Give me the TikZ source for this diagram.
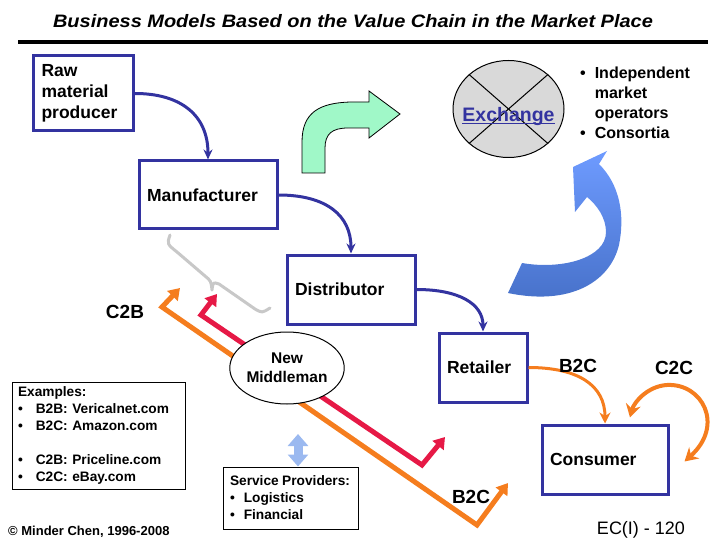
\documentclass[tikz,border=0pt]{standalone}
\usepackage{fontspec}
\setmainfont{Liberation Sans}
\usetikzlibrary{positioning, arrows.meta, shapes.geometric, calc}

\definecolor{boxblue}{RGB}{51,51,160}
\definecolor{flowred}{RGB}{230,25,70}
\definecolor{floworange}{RGB}{245,125,30}
\definecolor{greenfill}{RGB}{160,248,200}
\definecolor{liftlight}{RGB}{110,155,255}
\definecolor{liftdark}{RGB}{70,112,200}
\definecolor{svcblue}{RGB}{155,185,240}
\definecolor{xgray}{RGB}{217,217,217}
\definecolor{bracegray}{RGB}{200,200,200}

\newcommand{\boxfont}{\fontsize{17.5}{21}\selectfont\bfseries}
\newcommand{\notefont}{\fontsize{13.7}{17}\selectfont\bfseries}
\newcommand{\tagfont}{\fontsize{19}{22}\selectfont\bfseries}

\tikzset{
    chainbox/.style={draw=boxblue, line width=3pt, align=left, inner xsep=8pt,
        inner ysep=0pt, font=\boxfont},
    notebox/.style={draw, line width=1pt, align=left, inner xsep=6pt,
        inner ysep=0pt, font=\notefont},
    flow/.style={draw=boxblue, line width=3pt, -{Stealth[length=10pt,width=9pt]}},
    b2cflow/.style={draw=floworange, line width=3pt, -{Stealth[length=11pt,width=11pt]}},
    c2cflow/.style={draw=floworange, line width=4pt,
        {Stealth[length=13pt,width=15pt]}-{Stealth[length=13pt,width=15pt]}},
    bypass/.style={line width=5pt, line join=miter,
        {Triangle[length=11pt,width=14pt]}-{Triangle[length=11pt,width=14pt]}},
    tag/.style={font=\tagfont},
}

\begin{document}
\begin{tikzpicture}[x=1pt, y=-1pt]
    \useasboundingbox (0,0) rectangle (720,540);

    % title and rule
    \node[font=\fontsize{18}{20}\selectfont\bfseries\itshape] (title) at (353,21)
        {\scalebox{1.11}[1]{Business Models Based on the Value Chain in the Market Place}};
    \draw[line width=4pt] (18,42) -- (708,42);

    % the value chain
    \node[chainbox, text width=84, minimum height=75] (raw) at (83.5,93.5)
        {Raw\\material\\producer};
    \node[chainbox, text width=122, minimum height=68] (manu) at (208,195)
        {Manufacturer};
    \node[chainbox, text width=112, minimum height=69] (dist) at (351,289.5)
        {Distributor};
    \node[chainbox, text width=72, minimum height=69] (ret) at (483,367.5)
        {Retailer};
    \node[chainbox, text width=110, minimum height=69] (cons) at (605,459.5)
        {Consumer};

    \draw[flow] (raw.east) .. controls +(45,0) and +(0,-45) .. (manu.north);
    \draw[flow] (manu.east) .. controls +(48,0) and +(0,-38) .. (dist.north);
    \draw[flow] (dist.east) .. controls +(42,0) and +(0,-28) .. (ret.north);
    \draw[b2cflow] (ret.east) .. controls +(50,0) and +(0,-38) .. (cons.north);

    % consumer to consumer
    \coordinate (c2cA) at ($(cons.north)+(25,-6)$);
    \coordinate (c2cB) at ($(cons.east)+(15,2)$);
    \draw[c2cflow] (c2cB) .. controls (725,425) and (702,383) .. (667,385)
        .. controls (648,386) and (634,402) .. (c2cA);

    \node[tag] (b2cTop) at (578,366) {B2C};
    \node[tag] (c2cTag) at (674,368) {C2C};

    % exchange
    \node[ellipse, draw, line width=1pt, fill=xgray, minimum width=111,
        minimum height=97, inner sep=0pt] (exch) at (508.5,109) {};
    \draw[line width=1pt] (exch.north west) -- (exch.south east);
    \draw[line width=1pt] (exch.north east) -- (exch.south west);
    \node[anchor=base, text=boxblue, font=\fontsize{19.5}{22}\selectfont\bfseries]
        (exchText) at ($(exch.center)+(0,13)$) {\underline{\smash{Exchange}}};
    \node[anchor=north west, font=\fontsize{16}{19.7}\selectfont\bfseries, inner sep=0pt]
        (operators) at (580,65)
        {\begin{tabular}{@{}l@{\hspace{9pt}}l@{}}
            \textbullet & Independent\\
                        & market\\
                        & operators\\
            \textbullet & Consortia
        \end{tabular}};

    % arrow into the exchange
    \draw[line width=0.8pt, fill=greenfill]
        (302,173) -- (302,142) .. controls (302,112) and (320,103) .. (350,102)
        -- (369,102) -- (369,91) -- (400,114) -- (369,138) -- (369,128)
        -- (348,128) .. controls (332,128) and (325,134) .. (325,148)
        -- (325,173) -- cycle;

    % arrow out of the value chain
    \shade[top color=liftlight, bottom color=liftdark]
        (508,293) -- (522,263) .. controls (562,270) and (606,258) .. (606,232)
        .. controls (606,218) and (597,205) .. (587,197) -- (575,212)
        -- (573,167) -- (607,151) -- (599,164)
        .. controls (620,185) and (625,215) .. (619,245)
        .. controls (610,282) and (570,306) .. (508,293) -- cycle;

    % brace
    \draw[bracegray, line width=3pt, line cap=round, line join=round]
        (170,235) .. controls (167,244) .. (177,252) -- (205,276)
        .. controls (211,281) .. (212,290) .. controls (213,282) .. (219,284)
        -- (255,309) .. controls (262,313) .. (270,308);

    % bypassing the chain
    \coordinate (c2bTip) at (180,288);
    \coordinate (c2bKnee) at (162,307);
    \coordinate (b2cKnee) at (477,525);
    \coordinate (b2cTip) at (508,483);
    \coordinate (redTip) at (217,294);
    \coordinate (redKnee) at (201,315);
    \coordinate (redLow) at (422,465);
    \coordinate (redEnd) at (445,437);
    \draw[bypass, floworange] (c2bTip) -- (c2bKnee) -- (b2cKnee) -- (b2cTip);
    \draw[bypass, flowred] (redTip) -- (redKnee) -- (redLow) -- (redEnd);

    \node[ellipse, draw, line width=1pt, fill=white, minimum width=110,
        minimum height=72, inner sep=0pt, align=center,
        font=\fontsize{15.5}{19}\selectfont\bfseries] (mid) at (287,368)
        {New\\Middleman};

    \node[tag] (c2bTag) at (125,312) {C2B};
    \node[tag] (b2cLow) at (471,497) {B2C};

    % service providers
    \node[notebox, inner xsep=7pt, text width=121, minimum height=62] (svc)
        at (290.5,498)
        {Service\hspace{3.5pt}Providers:\\
         \textbullet\hspace{9pt}Logistics\\
         \textbullet\hspace{9pt}Financial};
    \coordinate (svcTop) at (298,434);
    \draw[svcblue, line width=9pt,
        {Triangle[length=12pt,width=20pt]}-{Triangle[length=12pt,width=20pt]}]
        (svcTop) -- (svcTop |- svc.north);

    % examples
    \node[notebox, text width=161, minimum height=107] (examples)
        at (98.5,435.5)
        {Examples:\\
         \textbullet\hspace{13pt}B2B: Vericalnet.com\\
         \textbullet\hspace{13pt}B2C: Amazon.com\\[17pt]
         \textbullet\hspace{13pt}C2B: Priceline.com\\
         \textbullet\hspace{13pt}C2C: eBay.com};

    % footer
    \node[anchor=west, font=\fontsize{13}{16}\selectfont\bfseries, inner sep=0pt]
        (copy) at (8,532) {© Minder Chen, 1996-2008};
    \node[font=\fontsize{18}{20}\selectfont] (page) at (641,530) {EC(I) - 120};
\end{tikzpicture}
\end{document}
